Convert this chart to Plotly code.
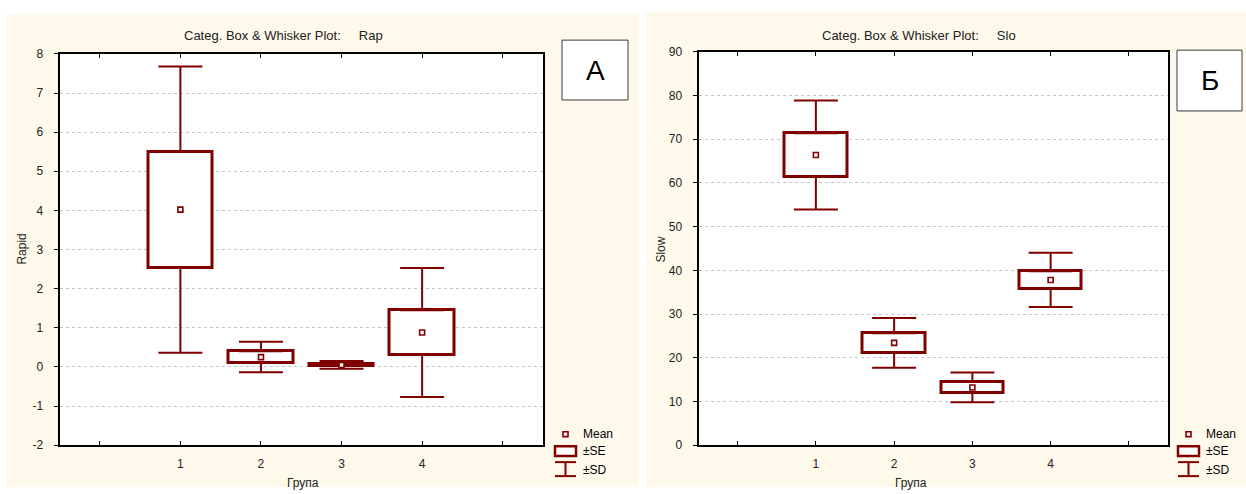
import plotly.graph_objects as go

# Group summaries: mean, standard error and standard deviation
groups = [1, 2, 3, 4]
group_tick_vals = [0, 1, 2, 3, 4, 5]
group_tick_text = ["", "1", "2", "3", "4", ""]

rapid_ticks = [-2, -1, 0, 1, 2, 3, 4, 5, 6, 7, 8]
rapid_tick_text = ["-2", "-1", "0", "1", "2", "3", "4", "5", "6", "7", "8"]
slow_ticks = [0, 10, 20, 30, 40, 50, 60, 70, 80, 90]

rapid_mean = [4.02, 0.25, 0.05, 0.88]
rapid_se = [1.48, 0.15, 0.03, 0.57]
rapid_sd = [3.66, 0.39, 0.10, 1.65]

slow_mean = [66.4, 23.4, 13.2, 37.8]
slow_se = [5.0, 2.2, 1.25, 2.0]
slow_sd = [12.5, 5.7, 3.4, 6.2]

W, H = 1246, 494
RED = "#800000"
CREAM = "#fff9ec"
FONT = "Liberation Sans, Arial, sans-serif"


def px(x):
    return x / W


def py(y):
    return 1 - y / H


def add_panel(fig, xa, ya, mean, se, sd):
    lo_se = [m - s for m, s in zip(mean, se)]
    box_h = [2 * s for s in se]
    # +-SE box
    fig.add_trace(go.Bar(
        x=groups, y=box_h, base=lo_se, width=0.8,
        marker=dict(color="white", line=dict(color=RED, width=3)),
        xaxis=xa, yaxis=ya, showlegend=False, hoverinfo="skip"))
    # +-SD whiskers, drawn outward from the box edges
    fig.add_trace(go.Scatter(
        x=groups, y=[m + s for m, s in zip(mean, se)], mode="markers",
        marker=dict(size=1, color="rgba(0,0,0,0)"),
        error_y=dict(type="data", symmetric=False,
                     array=[d - s for d, s in zip(sd, se)],
                     arrayminus=[0] * len(groups),
                     width=22, thickness=2, color=RED),
        xaxis=xa, yaxis=ya, showlegend=False, hoverinfo="skip"))
    fig.add_trace(go.Scatter(
        x=groups, y=lo_se, mode="markers",
        marker=dict(size=1, color="rgba(0,0,0,0)"),
        error_y=dict(type="data", symmetric=False,
                     array=[0] * len(groups),
                     arrayminus=[d - s for d, s in zip(sd, se)],
                     width=22, thickness=2, color=RED),
        xaxis=xa, yaxis=ya, showlegend=False, hoverinfo="skip"))
    # mean marker
    fig.add_trace(go.Scatter(
        x=groups, y=mean, mode="markers",
        marker=dict(symbol="square", size=5, color="white",
                    line=dict(color=RED, width=1.6)),
        xaxis=xa, yaxis=ya, showlegend=False, hoverinfo="skip"))


fig = go.Figure()
add_panel(fig, "x", "y", rapid_mean, rapid_se, rapid_sd)
add_panel(fig, "x2", "y2", slow_mean, slow_se, slow_sd)

# plot-area geometry (pixels)
A = dict(x0=59.5, x1=543, y0=48.3, y1=450.9)
B = dict(x0=698.5, x1=1168, y0=46.2, y1=450.9)

xaxis_common = dict(
    range=[-0.5, 5.5], tickvals=group_tick_vals, ticktext=group_tick_text,
    ticks="inside", ticklen=4, tickwidth=1, tickcolor="black",
    showline=True, linecolor="black", linewidth=2, mirror="ticks",
    showgrid=False, zeroline=False, fixedrange=True, ticklabelstandoff=6,
    tickfont=dict(family=FONT, size=12, color="#222"))
yaxis_common = dict(
    ticks="outside", ticklen=4, tickwidth=1, tickcolor="black",
    showline=True, linecolor="black", linewidth=2, mirror=True,
    showgrid=True, gridcolor="#c8c8c8", griddash="dot", gridwidth=1,
    zeroline=False, fixedrange=True, ticklabelstandoff=8,
    tickfont=dict(family=FONT, size=12, color="#222"))

fig.update_layout(
    width=W, height=H, margin=dict(l=0, r=0, t=0, b=0),
    paper_bgcolor="white", plot_bgcolor="rgba(0,0,0,0)",
    xaxis=dict(xaxis_common, domain=[px(A["x0"]), px(A["x1"])], anchor="y"),
    yaxis=dict(yaxis_common, domain=[py(A["y1"]), py(A["y0"])], anchor="x",
               range=[-2, 8], tickvals=rapid_ticks, ticktext=rapid_tick_text),
    xaxis2=dict(xaxis_common, domain=[px(B["x0"]), px(B["x1"])], anchor="y2"),
    yaxis2=dict(yaxis_common, domain=[py(B["y1"]), py(B["y0"])], anchor="x2",
                range=[0, 90], tickvals=slow_ticks),
    bargap=0,
)

shapes = []
# panel backgrounds
shapes.append(dict(type="rect", xref="paper", yref="paper", layer="below",
                   x0=px(7), x1=px(639), y0=py(494), y1=py(7.4),
                   fillcolor=CREAM, line=dict(width=0)))
shapes.append(dict(type="rect", xref="paper", yref="paper", layer="below",
                   x0=px(646), x1=px(1246), y0=py(494), y1=py(5.3),
                   fillcolor=CREAM, line=dict(width=0)))
# white plot areas
for P in (A, B):
    shapes.append(dict(type="rect", xref="paper", yref="paper", layer="below",
                       x0=px(P["x0"]), x1=px(P["x1"]), y0=py(P["y1"]), y1=py(P["y0"]),
                       fillcolor="white", line=dict(width=0)))

annotations = []


def label_box(x0, x1, y0, y1, text):
    shapes.append(dict(type="rect", xref="paper", yref="paper",
                       x0=px(x0), x1=px(x1), y0=py(y1), y1=py(y0),
                       fillcolor="white", line=dict(color="#3a3a3a", width=1)))
    annotations.append(dict(xref="paper", yref="paper", x=px((x0 + x1) / 2),
                            y=py((y0 + y1) / 2), text=text, showarrow=False,
                            xanchor="center", yanchor="middle",
                            font=dict(family=FONT, size=28, color="black")))


label_box(562, 628, 34.1, 95.7, "А")
label_box(1177, 1242, 44.4, 107.0, "Б")


def legend(x0, x1, text_x):
    xm = (x0 + x1) / 2
    # mean
    shapes.append(dict(type="rect", xref="paper", yref="paper",
                       x0=px(xm - 2.5), x1=px(xm + 2.5), y0=py(442.2), y1=py(437.1),
                       fillcolor="white", line=dict(color=RED, width=1.6)))
    # +-SE
    shapes.append(dict(type="rect", xref="paper", yref="paper",
                       x0=px(x0), x1=px(x1), y0=py(462.2), y1=py(452.0),
                       fillcolor="white", line=dict(color=RED, width=2.5)))
    # +-SD
    for yy in (468.4, 482.8):
        shapes.append(dict(type="line", xref="paper", yref="paper",
                           x0=px(x0), x1=px(x1), y0=py(yy), y1=py(yy),
                           line=dict(color=RED, width=2)))
    shapes.append(dict(type="line", xref="paper", yref="paper",
                       x0=px(xm), x1=px(xm), y0=py(468.4), y1=py(482.8),
                       line=dict(color=RED, width=2)))
    for yy, t in ((439.6, "Mean"), (457.1, "±SE"), (476.6, "±SD")):
        annotations.append(dict(xref="paper", yref="paper", x=px(text_x), y=py(yy),
                                text=t, showarrow=False, xanchor="left",
                                yanchor="middle",
                                font=dict(family=FONT, size=12, color="black")))


legend(555, 576, 581)
legend(1178, 1199, 1204)

sp = "\u00a0" * 5
for lx, title in ((182, "Categ. Box & Whisker Plot:" + sp + "Rap"),
                  (820, "Categ. Box & Whisker Plot:" + sp + "Slo")):
    annotations.append(dict(xref="paper", yref="paper", x=px(lx), y=py(29.0),
                            text=title, showarrow=False, xanchor="left",
                            yanchor="middle",
                            font=dict(family=FONT, size=13, color="#222")))

for cx, t in ((22, "Rapid"), (661, "Slow")):
    annotations.append(dict(xref="paper", yref="paper", x=px(cx), y=py(249.7),
                            text=t, showarrow=False, textangle=-90,
                            xanchor="center", yanchor="middle",
                            font=dict(family=FONT, size=12, color="#222")))

for cx in (303, 911):
    annotations.append(dict(xref="paper", yref="paper", x=px(cx), y=py(481),
                            text="Група", showarrow=False, xanchor="center",
                            yanchor="top",
                            font=dict(family=FONT, size=12, color="#222")))

fig.update_layout(shapes=shapes, annotations=annotations)
fig.write_html("out.html")
